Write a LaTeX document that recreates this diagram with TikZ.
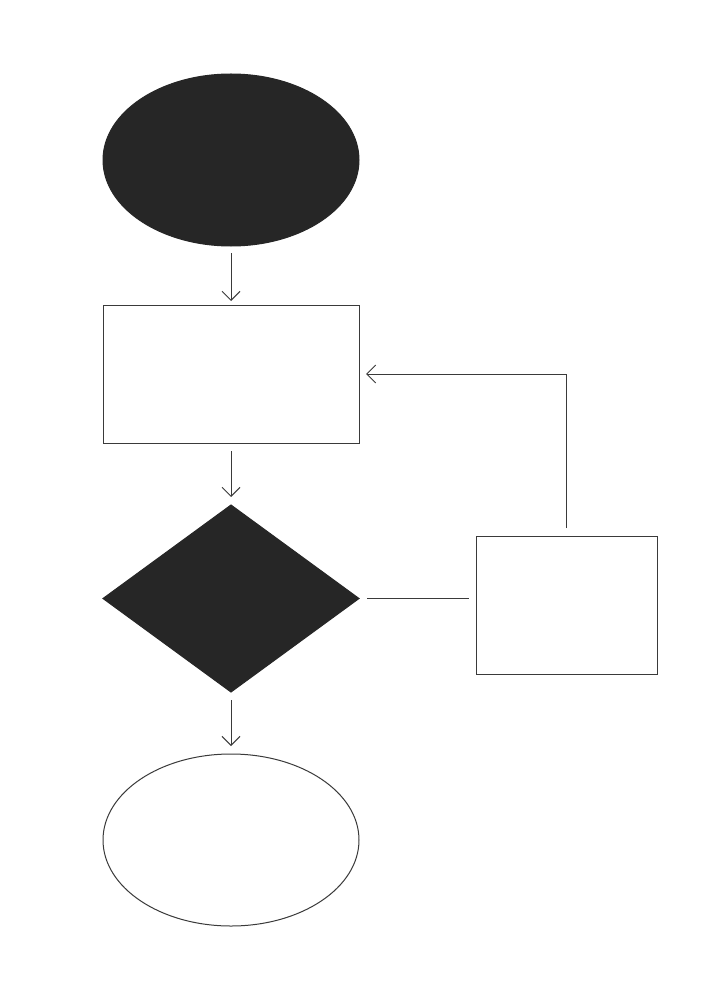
\documentclass[tikz,border=0pt]{standalone}
\usetikzlibrary{shapes.geometric,arrows.meta}
\definecolor{ink}{HTML}{3A3A3A}
\definecolor{dark}{HTML}{262626}
\begin{document}
\begin{tikzpicture}[x=1pt,y=-1pt,
  every node/.style={inner sep=0pt,outer sep=0pt,line width=1pt,draw=ink},
  termfill/.style={ellipse,minimum width=256pt,minimum height=172pt,fill=dark,draw=dark},
  termopen/.style={ellipse,minimum width=256pt,minimum height=172pt,fill=white},
  procbox/.style={rectangle,fill=white},
  decide/.style={diamond,minimum width=256pt,minimum height=187pt,fill=dark,draw=dark},
  arr/.style={draw=ink,line width=1pt,-{Straight Barb[length=9pt,width=18pt,line width=1pt]}},
  plain/.style={draw=ink,line width=1pt}]
\useasboundingbox[fill=white] (0,0) rectangle (727,1000);
\node[termfill] (start) at (231,160) {};
\node[procbox,minimum width=256pt,minimum height=138pt] (proc) at (231,374) {};
\node[decide] (dec) at (231,598.5) {};
\node[procbox,minimum width=181pt,minimum height=138pt] (side) at (566.5,605) {};
\node[termopen] (stop) at (231,840) {};
\draw[arr,shorten <=7pt,shorten >=4pt] (start) -- (proc);
\draw[arr,shorten <=8pt,shorten >=8pt] (proc) -- (dec);
\draw[arr,shorten <=8pt,shorten >=8pt] (dec) -- (stop);
\draw[plain,shorten <=8pt,shorten >=7pt] (dec.east) -- (dec.east -| side.west);
\coordinate (corner) at (side.north |- proc.east);
\draw[arr,shorten <=8pt,shorten >=7pt] (side.north) -- (corner) -- (proc.east);
\end{tikzpicture}
\end{document}
